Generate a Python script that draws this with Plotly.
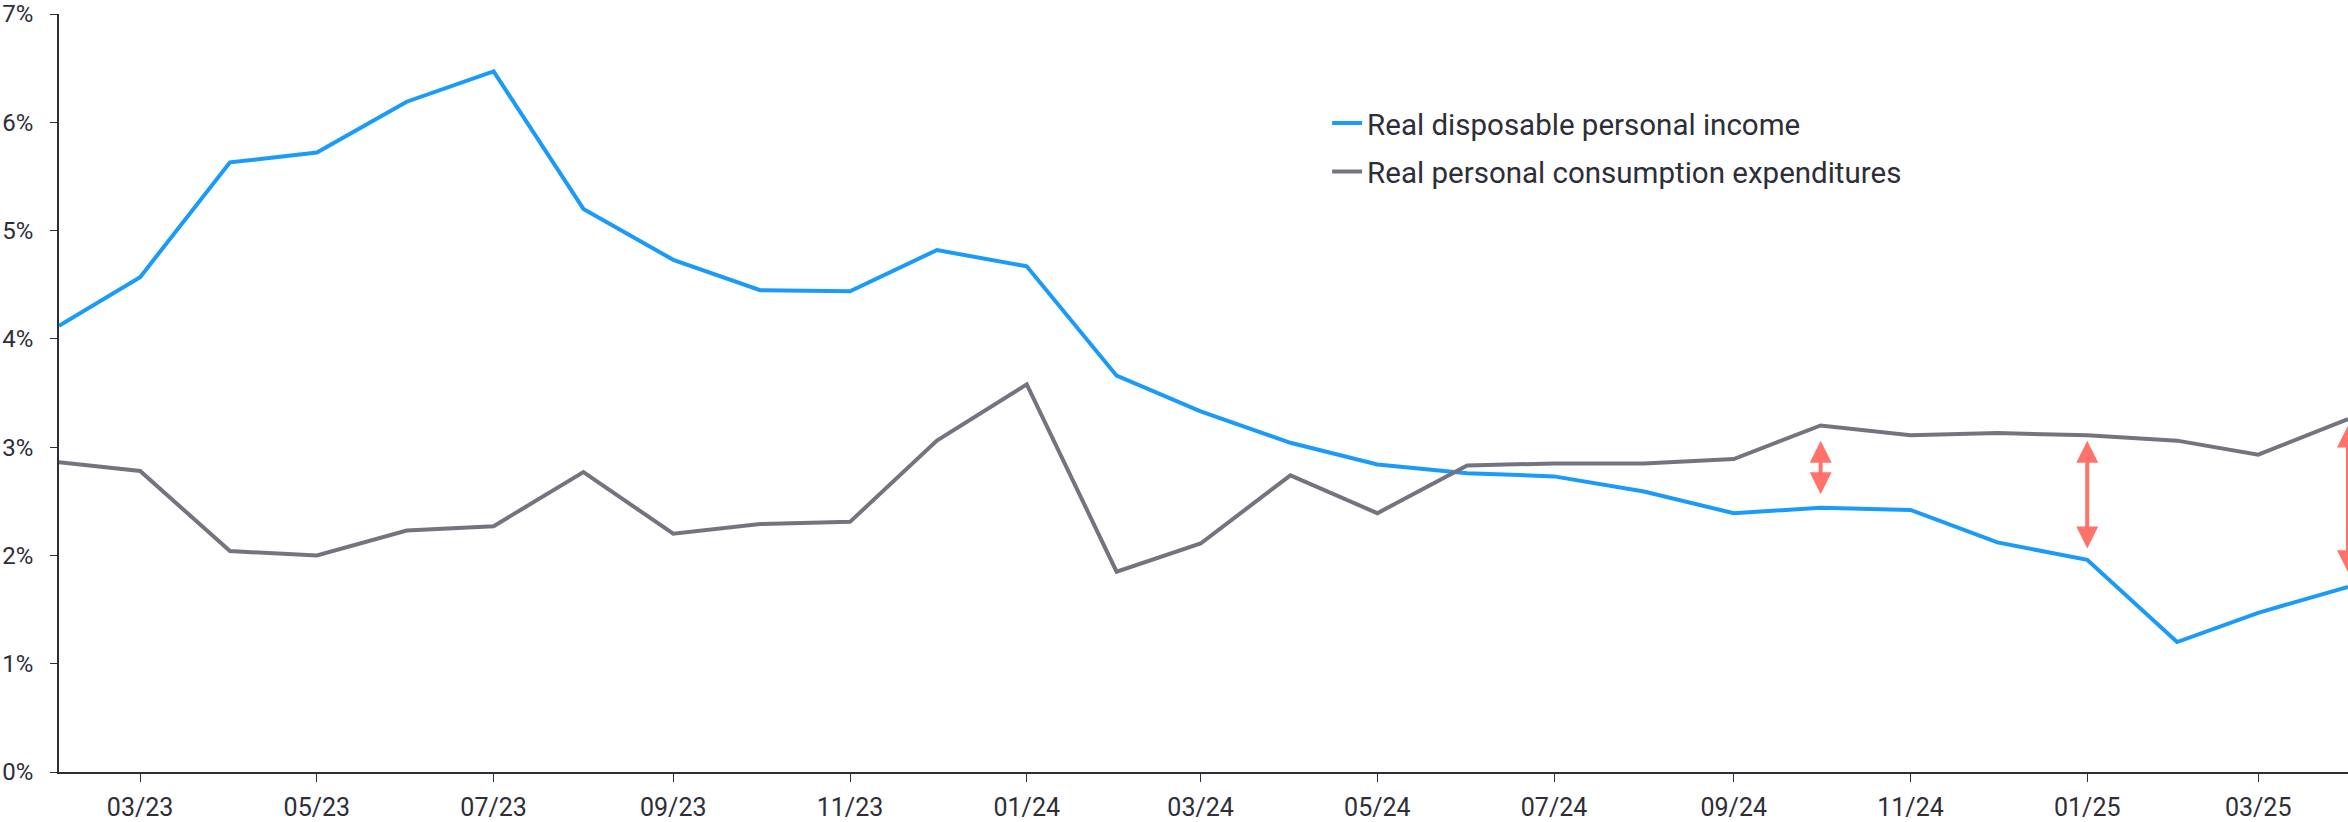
import plotly.graph_objects as go

# Monthly observations, year-over-year % change
months = [
    "2023-02-01", "2023-03-01", "2023-04-01", "2023-05-01", "2023-06-01", "2023-07-01",
    "2023-08-01", "2023-09-01", "2023-10-01", "2023-11-01", "2023-12-01", "2024-01-01",
    "2024-02-01", "2024-03-01", "2024-04-01", "2024-05-01", "2024-06-01", "2024-07-01",
    "2024-08-01", "2024-09-01", "2024-10-01", "2024-11-01", "2024-12-01", "2025-01-01",
    "2025-02-01", "2025-03-01", "2025-04-01",
]
disposable_income = [
    4.12, 4.57, 5.63, 5.72, 6.19, 6.47, 5.20, 4.73, 4.45, 4.44, 4.82, 4.67,
    3.66, 3.33, 3.04, 2.84, 2.76, 2.73, 2.59, 2.39, 2.44, 2.42, 2.12, 1.96,
    1.20, 1.47, 1.71,
]
consumption = [
    2.86, 2.78, 2.04, 2.00, 2.23, 2.27, 2.77, 2.20, 2.29, 2.31, 3.06, 3.58,
    1.85, 2.11, 2.74, 2.39, 2.83, 2.85, 2.85, 2.89, 3.20, 3.11, 3.13, 3.11,
    3.06, 2.93, 3.26,
]

# Gap markers: (date, lower end, upper end)
gap_dates = ["2024-10-01", "2025-01-01", "2025-04-01"]
gap_low = [2.55, 2.05, 1.83]
gap_high = [3.06, 3.06, 3.20]

BLUE = "#1a9bfa"
GREY = "#747480"
INK = "#2e2e38"
SALMON = "#ff736a"
FONT = "Roboto, 'Open Sans', sans-serif"

fig = go.Figure()
fig.add_trace(go.Scatter(
    x=months, y=disposable_income, mode="lines",
    name="Real disposable personal income", legendgroup="income",
    line=dict(color=BLUE, width=4),
))
fig.add_trace(go.Scatter(
    x=months, y=consumption, mode="lines",
    name="Real personal consumption expenditures", legendgroup="pce",
    line=dict(color=GREY, width=4),
))

for d, lo, hi in zip(gap_dates, gap_low, gap_high):
    fig.add_annotation(
        x=d, y=hi, ax=d, ay=lo,
        xref="x", yref="y", axref="x", ayref="y",
        text="", showarrow=True,
        arrowhead=2, startarrowhead=2, arrowside="end+start",
        arrowsize=1.1, startarrowsize=1.1, arrowwidth=4, arrowcolor=SALMON,
        standoff=0, startstandoff=0,
    )

fig.update_layout(
    width=2348, height=822,
    margin=dict(l=59, r=0, t=14, b=48),
    paper_bgcolor="white", plot_bgcolor="white",
    font=dict(family=FONT, color=INK, size=24),
    showlegend=True,
    legend=dict(
        x=0.554, y=0.890, xanchor="left", yanchor="top",
        font=dict(size=29.5, color=INK, family=FONT),
        bgcolor="rgba(0,0,0,0)",
        traceorder="grouped", tracegroupgap=7,
        itemwidth=30,
    ),
    xaxis=dict(
        type="date",
        range=["2023-02-01", "2025-04-01"],
        tick0="2023-03-01", dtick="M2", tickformat="%m/%y",
        showgrid=False, zeroline=False,
        showline=True, linecolor=INK, linewidth=1.5,
        ticks="outside", ticklen=8, tickwidth=1, tickcolor=INK,
        tickfont=dict(size=25, color=INK),
        ticklabelstandoff=4,
    ),
    yaxis=dict(
        range=[0, 7], dtick=1, ticksuffix="%",
        showgrid=False, zeroline=False,
        showline=True, linecolor=INK, linewidth=1.5,
        ticks="outside", ticklen=7, tickwidth=1, tickcolor=INK,
        tickfont=dict(size=24, color=INK),
        ticklabelstandoff=12,
    ),
)

fig.write_html("out.html")
